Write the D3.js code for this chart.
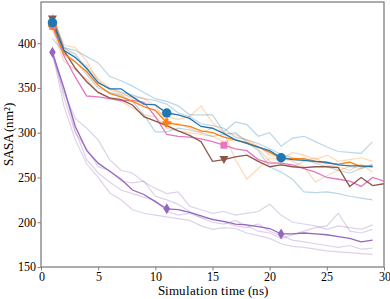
<!DOCTYPE html>
<html>
<head>
<meta charset="utf-8">
<script src="https://cdn.jsdelivr.net/npm/d3@7"></script>
<style>
@font-face {
    font-family: 'ChartSerif';
    src: local('Liberation Serif'), local('LiberationSerif'), local('LiberationSerif-Regular'), local('DejaVu Serif'), local('DejaVuSerif');
}
body {margin: 0; background: #fff;}
svg {display: block;}
.axis line {stroke: #808080; stroke-width: 1;}
.axis path {display: none;}
</style>
</head>
<body>
<div id="chart"></div>
<script>
// time points (ns)
var timeA = d3.range(1, 30);   // 1..29
var timeB = d3.range(1, 31);   // 1..30 (pink, brown)

// mean curves
var blueMean = [423, 392, 384, 372, 356, 349, 349, 340, 332, 331, 322, 320, 316, 307, 305, 299, 292, 288, 284, 280, 272, 270, 269, 268, 267, 264, 263, 263, 262];
var orangeMean = [420, 388, 379, 368, 353, 344, 340, 335, 329, 325, 311, 309, 307, 302, 300, 295, 292, 289, 284, 278, 272, 271, 271, 268, 266, 265, 267, 262, 263];
var pinkMean = [419, 386, 362, 341, 340, 338, 336, 336, 334, 318, 298, 296, 295, 293, 290, 286, 282, 280, 270, 266, 266, 264, 260, 256, 250, 248, 246, 240, 250, 246];
var brownMean = [427, 392, 372, 357, 345, 339, 337, 331, 318, 313, 308, 302, 297, 290, 268, 270, 273, 275, 268, 262, 264, 262, 261, 262, 262, 261, 240, 250, 241, 243];
var purpleMean = [390, 350, 307, 280, 266, 257, 248, 236, 231, 223, 215, 214, 211, 207, 203, 201, 198, 197, 195, 193, 187, 187, 188, 187, 186, 184, 182, 178, 180];

// individual runs
var blueRuns = [
    [430, 395, 392, 385, 378, 363, 358, 352, 345, 338, 335, 330, 320, 320, 320, 301, 312, 309, 296, 300, 285, 294, 296, 290, 284, 279, 278, 277, 290],
    [405, 390, 380, 365, 350, 345, 342, 335, 320, 301, 301, 305, 303, 300, 296, 298, 300, 290, 280, 262, 256, 248, 234, 233, 234, 232, 229, 227, 225],
    [433, 395, 388, 370, 355, 350, 345, 342, 338, 336, 332, 322, 318, 310, 308, 305, 295, 292, 288, 282, 276, 272, 270, 266, 262, 258, 255, 260, 264]
];
var orangeRuns = [
    [425, 395, 385, 375, 360, 350, 345, 338, 330, 325, 318, 315, 318, 330, 311, 300, 270, 248, 260, 272, 270, 278, 275, 270, 275, 268, 270, 272, 268],
    [430, 398, 395, 380, 358, 348, 343, 340, 338, 330, 312, 310, 305, 300, 305, 300, 298, 292, 285, 275, 272, 268, 262, 245, 252, 258, 262, 260, 265],
    [415, 380, 370, 360, 345, 338, 335, 328, 320, 318, 305, 302, 300, 298, 296, 290, 292, 288, 282, 268, 265, 262, 268, 272, 264, 262, 258, 265, 256]
];
var purpleRuns = [
    [388, 345, 316, 305, 292, 270, 258, 255, 245, 238, 232, 234, 218, 214, 210, 212, 208, 210, 212, 220, 208, 200, 198, 196, 192, 196, 194, 192, 197],
    [392, 340, 300, 282, 262, 258, 246, 244, 246, 229, 225, 220, 212, 205, 200, 198, 202, 196, 190, 188, 182, 186, 190, 194, 196, 210, 190, 188, 192],
    [390, 330, 292, 265, 250, 233, 225, 214, 210, 208, 206, 204, 202, 196, 192, 194, 193, 188, 185, 182, 176, 173, 172, 170, 168, 167, 166, 165, 164],
    [385, 350, 302, 270, 255, 245, 236, 232, 228, 224, 212, 208, 210, 205, 204, 200, 196, 194, 198, 190, 185, 180, 178, 176, 174, 172, 174, 170, 171]
];

var xTicks = [0, 5, 10, 15, 20, 25, 30];
var yTicks = [150, 200, 250, 300, 350, 400];

var colors = {
    blue: '#1f77b4',
    orange: '#ff7f0e',
    pink: '#e377c2',
    brown: '#8c564b',
    purple: '#9467bd'
};

var w = 390, h = 299;
var margin = {top: 2, right: 6, bottom: 32, left: 41};
var innerW = w - margin.left - margin.right,
    innerH = h - margin.top - margin.bottom;
var fontFam = "ChartSerif, 'Liberation Serif', 'DejaVu Serif', serif";

var svg = d3.select('#chart').append('svg')
    .attr('width', w)
    .attr('height', h);

var g = svg.append('g')
    .attr('transform', translation(margin.left, margin.top));

var x = d3.scaleLinear().domain([0, 30]).range([0, innerW]);
var y = d3.scaleLinear().domain([150, 446]).range([innerH, 0]);

var line = d3.line()
    .x(function(d) { return x(d[0]); })
    .y(function(d) { return y(d[1]); });

function pairs(ts, vs) {
    return vs.map(function(v, i) { return [ts[i], v]; });
}

var plot = g.append('g');

// faint individual runs
function drawRuns(runs, color) {
    runs.forEach(function(r) {
        plot.append('path')
            .attr('d', line(pairs(timeA, r)))
            .attr('fill', 'none')
            .attr('stroke', color)
            .attr('stroke-opacity', 0.3)
            .attr('stroke-width', 1.2);
    });
}
drawRuns(blueRuns, colors.blue);
drawRuns(orangeRuns, colors.orange);
drawRuns(purpleRuns, colors.purple);

var series = [
    {name: 'pink', t: timeB, v: pinkMean, marks: [1, 16], shape: d3.symbolSquare, size: 48},
    {name: 'brown', t: timeB, v: brownMean, marks: [1, 16], shape: 'tri', size: 0},
    {name: 'purple', t: timeA, v: purpleMean, marks: [1, 11, 21], shape: 'diamond', size: 0},
    {name: 'orange', t: timeA, v: orangeMean, marks: [1, 11, 21], shape: 'plus', size: 0},
    {name: 'blue', t: timeA, v: blueMean, marks: [1, 11, 21], shape: d3.symbolCircle, size: 70}
];

series.forEach(function(s) {
    plot.append('path')
        .attr('d', line(pairs(s.t, s.v)))
        .attr('fill', 'none')
        .attr('stroke', colors[s.name])
        .attr('stroke-width', 1.3);
});

series.forEach(function(s) {
    s.marks.forEach(function(tm) {
        var i = s.t.indexOf(tm);
        var px = x(tm), py = y(s.v[i]);
        var p;
        if (s.shape === 'tri') {
            p = 'M-4.5,-3.5L4.5,-3.5L0,4.5Z';
        } else if (s.shape === 'diamond') {
            p = 'M0,-5.5L3.3,0L0,5.5L-3.3,0Z';
        } else if (s.shape === 'plus') {
            p = 'M-1.6,-4.5H1.6V-1.6H4.5V1.6H1.6V4.5H-1.6V1.6H-4.5V-1.6H-1.6Z';
        } else {
            p = d3.symbol().type(s.shape).size(s.size)();
        }
        plot.append('path')
            .attr('d', p)
            .attr('transform', translation(px, py))
            .attr('fill', colors[s.name]);
    });
});

// axes
var xAxisG = g.append('g')
    .attr('class', 'axis x')
    .attr('transform', translation(0, innerH))
    .call(d3.axisBottom(x).tickValues(xTicks).tickSize(3.5).tickPadding(1.5));

var yAxisG = g.append('g')
    .attr('class', 'axis y')
    .call(d3.axisLeft(y).tickValues(yTicks).tickSize(3.5).tickPadding(1.5));

[xAxisG, yAxisG].forEach(function(a) {
    a.attr('font-family', null).attr('font-size', null);
    a.selectAll('text')
        .style('font-family', fontFam)
        .style('font-size', '12px')
        .attr('fill', '#000');
});

// frame
g.append('rect')
    .attr('x', 0)
    .attr('y', 0)
    .attr('width', innerW)
    .attr('height', innerH)
    .attr('fill', 'none')
    .attr('stroke', '#808080')
    .attr('stroke-width', 1.3);

svg.append('text')
    .attr('x', margin.left + innerW / 2)
    .attr('y', h - 4)
    .attr('text-anchor', 'middle')
    .style('font-family', fontFam)
    .style('font-size', '12.5px')
    .text('Simulation time (ns)');

svg.append('text')
    .attr('transform', translation(13, margin.top + innerH / 2) + ' rotate(-90)')
    .attr('text-anchor', 'middle')
    .style('font-family', fontFam)
    .style('font-size', '12.5px')
    .text('SASA (nm²)');

function translation(a, b) {
    return 'translate(' + a + ',' + b + ')';
}
</script>
</body>
</html>
